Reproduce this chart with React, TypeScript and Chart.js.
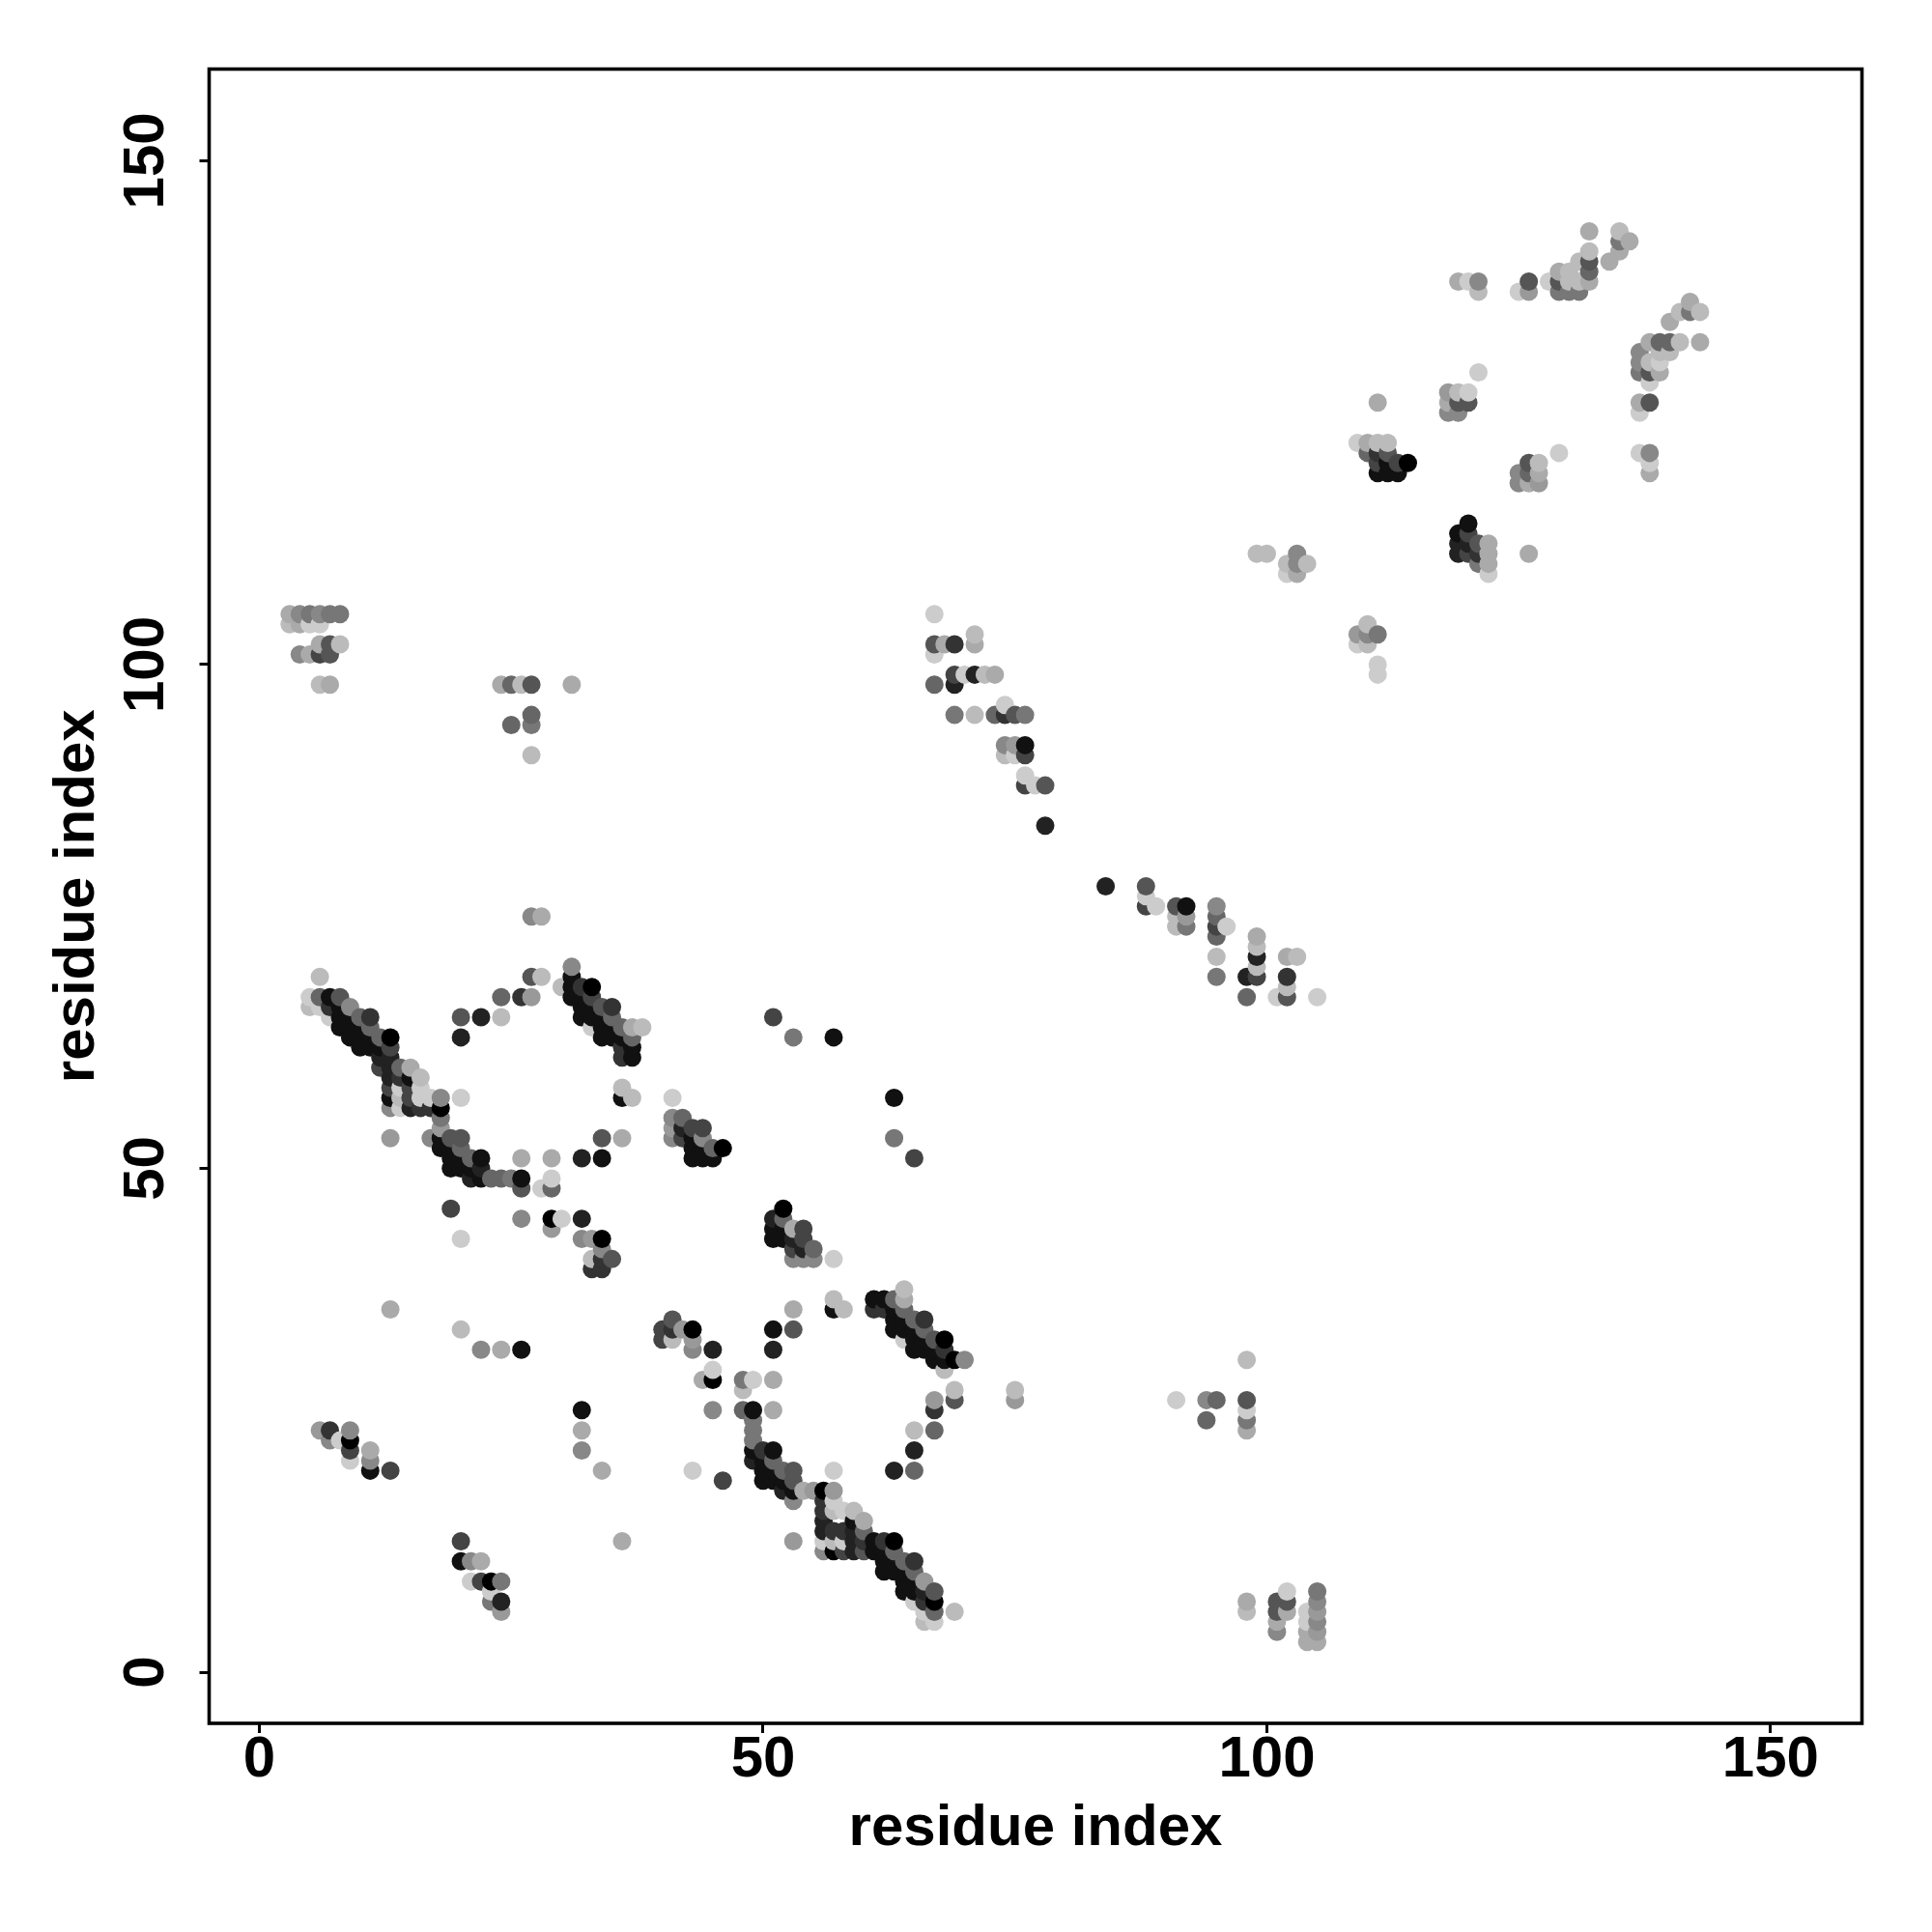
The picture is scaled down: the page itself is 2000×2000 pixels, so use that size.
import React, { useEffect, useRef } from "react";
import { Chart, registerables } from "chart.js";

Chart.register(...registerables);

const axisTitle = "residue index";
const tickValues = [0, 50, 100, 150];

// Each row: one y value, the x values on it, and a gray level per point (0 = black ... 12 = light).
const rowY = [
  69, 67, 66, 65, 64, 63, 62, 61, 60, 59, 58, 57, 56, 55, 54, 53, 52, 51, 50, 49, 48, 46, 45, 44, 43, 42, 41, 40, 36,
  70, 69, 68, 67, 66, 65, 64, 63, 62, 61, 58, 57, 53, 75,
  57, 55, 54, 53, 52, 51, 65, 63, 57, 53, 51,
  46, 45, 44, 43, 42, 41, 38, 37, 36, 35, 34, 33, 32, 31, 30, 29, 28, 27, 26, 25, 24, 23, 22, 21, 20, 19, 18, 17, 16, 15, 14, 13, 12, 11, 10, 9, 8, 7, 6, 5,
  8, 7, 6, 5, 4, 3, 31,
  105, 104, 102, 101, 98, 95, 94, 91,
  24, 23, 22, 21, 20, 34, 32, 26, 24, 22, 20, 13, 11, 9, 8, 7, 6,
  105, 103, 102, 101, 99, 98, 96, 95, 92, 91, 89, 88, 84, 78, 77, 76, 75, 74, 73, 71, 69, 70, 72, 68, 67,
  111, 110, 109, 104, 103, 102, 100, 99,
  143, 142, 141, 140, 139, 138, 137,
  136, 135, 134, 132, 131, 130, 129, 128, 126, 125, 121, 120, 119,
  129, 127, 126, 125,
  122, 121, 120, 119, 118, 114, 113, 112, 111, 110, 109,
];

const rowX = [
  [6], [5, 6, 7, 8], [5, 6, 7, 8, 9], [7, 8, 9, 10, 11], [8, 9, 10, 11], [9, 10, 11, 12, 13], [10, 11, 12, 13], [12, 13], [12, 13, 14, 15], [13, 14, 15, 16], [13, 14, 15, 16], [13, 14, 15, 16, 17, 18, 20], [13, 14, 15, 16, 17, 18], [18], [18], [13, 17, 18, 19, 20], [18, 19, 20], [19, 20, 21, 22, 26, 29, 32, 34], [19, 20, 21, 22], [21, 22, 23, 24, 25, 26, 29], [26, 28, 29], [19], [26, 29, 30, 32], [29], [20, 32, 33, 34], [34], [33, 34, 35], [33, 34], [13],
  [31], [27, 28, 31], [30, 31, 32, 33], [24, 26, 27, 31, 32, 33], [32, 33, 34, 35], [20, 22, 24, 32, 33, 34, 35], [33, 34, 35, 36, 37, 38], [20, 34, 35, 36, 37], [36, 37], [36, 37], [36], [36, 37], [34, 36], [27, 28],
  [41], [41, 42], [41, 42, 43, 44], [41, 42, 43, 44], [43, 44, 45, 46], [43, 44, 45], [51], [53, 57], [63], [63], [65],
  [52], [51, 52], [51, 52, 53, 54], [51, 52, 53, 54], [53, 54, 55], [53, 54, 55, 57], [64], [57, 61, 62, 63, 64], [53, 57, 58, 61, 62, 63, 64], [41, 63, 64, 65, 66], [40, 41, 42, 43, 51, 53, 63, 64, 65, 66], [40, 41, 43, 64, 65, 66, 67, 68], [43, 45, 51, 65, 66, 67, 68], [67, 68, 69, 70], [45, 68], [44, 45, 48, 49, 51], [48, 69, 75], [67, 69, 75, 91, 94, 95, 98], [45, 48, 49, 51, 67, 98], [49, 94, 98], [49, 65, 67, 98], [49], [49, 50, 51, 65], [49, 50, 51], [43, 50, 51, 52, 53, 57, 63, 65], [46, 50, 51, 52, 53], [52, 53, 54, 55, 56, 57], [53, 56, 57], [56, 57, 58, 59], [56, 59, 60], [56, 57, 58, 59, 60], [53, 56, 57, 58, 59, 60, 61, 62, 63], [56, 57, 58, 59, 60, 61, 62, 63], [62, 63, 64, 65], [62, 63, 64, 65], [64, 65, 66], [64, 65, 66, 67], [65, 66, 67], [66, 67, 69], [66, 67],
  [102, 105], [98, 101, 102, 105], [98, 101, 102, 104, 105], [101, 104, 105], [101, 104, 105], [104, 105], [98],
  [3, 4, 5, 6, 7, 8], [3, 4, 5, 6], [6, 7, 8], [4, 5, 6, 7], [6, 7, 24, 25, 26, 27, 31], [27], [25, 27], [27],
  [6, 7, 9], [7, 8, 9], [9, 11], [9, 11], [11, 13], [20], [22, 24, 26], [32], [32], [32], [34], [20, 36], [20, 21, 22], [21, 22, 23, 24], [23], [23, 24], [24],
  [67], [71], [67, 68, 69, 71], [67], [69, 70, 71, 72, 73], [67, 69], [74], [69, 71, 73, 74, 75, 76], [74, 75, 76], [74, 75, 76], [76], [76, 77, 78], [78], [84, 88], [88], [88, 89, 91, 92, 95], [91, 92, 95], [91, 92, 95, 96], [95, 99], [95, 99, 102, 103], [95, 98, 99, 102], [99], [99], [102], [98, 101, 102, 105],
  [99, 100, 103], [102, 103, 104], [102, 103], [110], [109, 110, 111], [109, 110], [111], [111],
  [132, 135], [135, 136], [132, 135], [131, 132, 134], [129, 130, 132], [119, 120, 121, 126, 128, 129, 130, 131, 132], [121, 125, 126, 129, 130, 131],
  [142], [141, 142, 143], [140], [138, 139, 140, 141, 143], [137, 139, 140], [137, 138, 139], [137, 138, 139], [138], [137, 138], [137], [137, 138], [138], [138],
  [121], [118, 119, 120], [111, 118, 119, 120], [118, 119],
  [109, 110, 111, 112], [110, 111, 112, 129], [111, 112, 113, 114, 126, 127], [111, 112, 113, 125, 126, 127], [125, 126, 127], [120], [119, 120], [119, 120, 121, 122], [119, 120, 121, 122, 126], [121, 122], [122],
];

const rowShade = [
  [11], [12, 6, 1, 5], [11, 12, 3, 1, 8], [12, 1, 1, 6, 3], [1, 1, 1, 6], [1, 1, 1, 6, 0], [1, 1, 1, 4], [2, 2], [4, 2, 6, 10], [2, 3, 1, 11], [4, 12, 4, 12], [1, 11, 4, 12, 12, 8, 12], [8, 12, 2, 3, 3, 0], [7], [9], [9, 8, 1, 5, 5], [1, 1, 6], [1, 1, 6, 1, 10, 10, 2, 1], [1, 1, 1, 2], [2, 1, 6, 6, 7, 1, 12], [5, 12, 6], [4], [8, 0, 12, 2], [9], [12, 8, 9, 0], [8], [11, 3, 5], [3, 3], [10],
  [8], [5, 11, 1], [11, 1, 3, 0], [6, 3, 9, 1, 1, 4], [1, 1, 5, 3], [5, 2, 11, 1, 1, 1, 6], [12, 1, 1, 6, 10, 11], [2, 1, 1, 1, 6], [3, 1], [3, 1], [11], [1, 11], [5, 10], [8, 10],
  [12], [8, 6], [9, 2, 4, 4], [8, 4, 1, 8], [1, 1, 6, 0], [1, 1, 1], [4], [7, 1], [1], [7], [4],
  [0], [2, 6], [1, 1, 10, 4], [1, 1, 2, 4], [4, 2, 6], [8, 8, 8, 12], [11], [11, 1, 1, 6, 10], [10, 1, 11, 3, 3, 1, 6], [5, 1, 1, 6, 3], [4, 3, 9, 0, 1, 5, 1, 1, 1, 6], [4, 11, 9, 12, 1, 1, 5, 0], [8, 2, 2, 1, 1, 1, 3], [1, 1, 0, 8], [12, 11], [10, 0, 7, 12, 10], [11, 11, 11], [9, 5, 9, 12, 8, 6, 5], [8, 6, 1, 10, 3, 12], [7, 6, 7], [7, 11, 6, 10], [7], [1, 3, 1, 2], [2, 1, 6], [12, 1, 1, 6, 5, 12, 2, 6], [4, 1, 1, 1, 5], [2, 1, 10, 9, 0, 9], [8, 3, 12], [3, 11, 12, 11], [2, 1, 10], [2, 3, 3, 2, 6], [9, 12, 11, 12, 2, 3, 1, 3, 0], [8, 0, 4, 2, 5, 1, 1, 6], [1, 1, 6, 3], [1, 1, 1, 6], [1, 1, 9], [1, 1, 2, 5], [12, 3, 0], [12, 6, 11], [11, 12],
  [12, 7], [10, 5, 5, 8], [11, 5, 10, 12, 9], [10, 12, 8], [8, 10, 9], [10, 10], [11],
  [10, 8, 7, 8, 7, 7], [11, 10, 12, 12], [10, 5, 11], [8, 10, 4, 5], [11, 10, 10, 6, 11, 5, 10], [6], [6, 7], [11],
  [9, 3, 8], [8, 12, 0], [4, 10], [12, 8], [1, 4], [11], [8, 10, 1], [1], [10], [8], [10], [4, 10], [1, 8, 10], [12, 4, 0, 7], [12], [7, 2], [9],
  [12], [11], [5, 10, 3, 10], [12], [4, 12, 2, 11, 10], [6, 2], [12], [7, 11, 6, 3, 5, 7], [8, 9, 1], [11, 12, 4], [12], [4, 12, 5], [2], [2, 5], [12], [4, 12, 5, 1, 8], [11, 9, 6], [11, 7, 4, 12], [6, 10], [11, 2, 10, 11], [7, 2, 4, 3], [11], [11], [11], [6, 12, 5, 12],
  [11, 11, 8], [11, 8, 11], [12, 10], [11], [9, 8, 7], [12, 11], [12], [12],
  [10, 11], [7, 10], [11, 10], [11, 5, 10], [10, 11, 6], [10, 12, 8, 5, 12, 5, 11, 11, 10], [11, 12, 9, 7, 7, 7],
  [10], [11, 7, 11], [10], [10, 6, 6, 11, 10], [8, 11, 11], [8, 11, 12], [7, 5, 10], [12], [10, 5], [12], [12, 8], [12], [10],
  [12], [9, 11, 12], [10, 10, 5, 5], [8, 8],
  [12, 10, 11, 11], [6, 3, 5, 12], [4, 1, 4, 0, 5, 11], [1, 1, 1, 8, 6, 10], [8, 10, 9], [1], [1, 4], [2, 2, 5, 10], [2, 4, 3, 10, 10], [7, 10], [12],
];

const BOX_COLOR = "#000000";

function buildPoints() {
  const pts: { x: number; y: number; s: number }[] = [];
  rowY.forEach((y, i) => {
    (rowX[i] || []).forEach((x, j) => {
      pts.push({ x, y, s: rowShade[i][j] });
    });
  });
  // Higher x drawn later, then higher y, as in the reference.
  pts.sort((a, b) => a.x - b.x || a.y - b.y);
  return pts;
}

const framePlugin = {
  id: "frame",
  afterDraw(chart: any) {
    const { ctx, chartArea: a } = chart;
    ctx.save();
    ctx.strokeStyle = BOX_COLOR;
    ctx.lineWidth = 3.6;
    ctx.strokeRect(a.left, a.top, a.right - a.left, a.bottom - a.top);
    ctx.restore();
  },
};

export default function App() {
  const ref = useRef<HTMLCanvasElement | null>(null);
  useEffect(() => {
    const pts = buildPoints();
    const font = { family: "'Liberation Sans', Arial, sans-serif", size: 60, weight: "bold" as const };
    const sharedGrid = {
      drawOnChartArea: false,
      drawTicks: true,
      tickLength: 10,
      tickWidth: 3,
      tickColor: "#000000",
    };
    const chart = new Chart(ref.current!, {
      type: "scatter",
      data: {
        datasets: [
          {
            data: pts.map((p) => ({ x: p.x, y: p.y })),
            backgroundColor: pts.map((p) => {
              const g = p.s * 17;
              return `rgb(${g},${g},${g})`;
            }),
            borderWidth: 0,
            pointRadius: 9.5,
            pointHoverRadius: 9.5,
          },
        ],
      },
      options: {
        animation: false,
        responsive: false,
        devicePixelRatio: 1,
        layout: { padding: { top: 71.5, right: 72.5, left: 0, bottom: 0 } },
        plugins: { legend: { display: false }, tooltip: { enabled: false } },
        scales: {
          x: {
            type: "linear",
            min: -4.99,
            max: 159.07,
            afterBuildTicks: (s: any) => {
              s.ticks = tickValues.map((value) => ({ value }));
            },
            afterFit: (s: any) => {
              s.height = 216;
            },
            grid: sharedGrid,
            border: { display: false },
            ticks: { font, color: "#000", padding: -8, maxRotation: 0, minRotation: 0, autoSkip: false },
            title: { display: true, text: axisTitle, font, color: "#000", padding: { top: 71, bottom: 71 } },
          },
          y: {
            type: "linear",
            min: -5.08,
            max: 159.1,
            afterBuildTicks: (s: any) => {
              s.ticks = tickValues.map((value) => ({ value }));
            },
            afterFit: (s: any) => {
              s.width = 216.5;
            },
            grid: sharedGrid,
            border: { display: false },
            ticks: { font, color: "#000", padding: 4, maxRotation: 90, minRotation: 90, autoSkip: false, crossAlign: "center" },
            title: { display: true, text: axisTitle, font, color: "#000", padding: { top: 44, bottom: 44 } },
          },
        },
      },
      plugins: [framePlugin],
    } as any);
    return () => chart.destroy();
  }, []);
  return (
    <canvas
      ref={ref}
      width={2000}
      height={2000}
      style={{ position: "absolute", left: 0, top: 0, width: 2000, height: 2000, background: "#fff" }}
    />
  );
}
